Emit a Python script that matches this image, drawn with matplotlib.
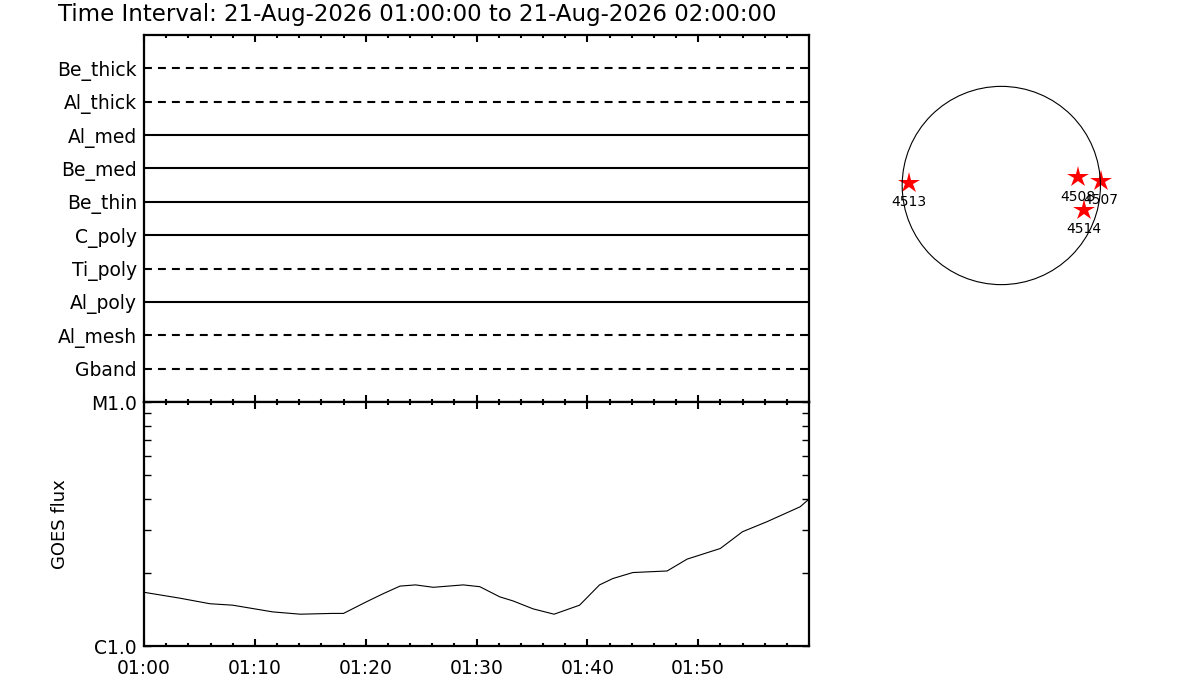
import numpy as np
import matplotlib.pyplot as plt
from matplotlib.ticker import FixedLocator, MultipleLocator, NullFormatter

plt.rcParams['font.family'] = ['DejaVu Sans']

title = "Time Interval: 21-Aug-2026 01:00:00 to 21-Aug-2026 02:00:00"

# XRT filter channels, bottom to top
channels = ['Gband', 'Al_mesh', 'Al_poly', 'Ti_poly', 'C_poly',
            'Be_thin', 'Be_med', 'Al_med', 'Al_thick', 'Be_thick']
channel_dashed = [True, True, False, True, False,
                  False, False, False, True, True]

# GOES flux, minutes after 01:00
goes_min = [0.0, 3.25, 5.95, 8.0, 11.6, 14.1, 17.0, 18.0, 20.1, 21.6, 23.1,
            24.5, 26.1, 28.8, 30.3, 32.1, 33.3, 35.1, 37.0, 39.3, 41.1, 42.3,
            44.1, 47.2, 49.0, 52.0, 54.0, 56.2, 59.2, 60.0]
goes_flux = [1.66e-6, 1.57e-6, 1.49e-6, 1.47e-6, 1.38e-6, 1.35e-6, 1.36e-6,
             1.36e-6, 1.52e-6, 1.64e-6, 1.76e-6, 1.78e-6, 1.74e-6, 1.78e-6,
             1.75e-6, 1.59e-6, 1.53e-6, 1.42e-6, 1.35e-6, 1.47e-6, 1.78e-6,
             1.89e-6, 2.0e-6, 2.03e-6, 2.27e-6, 2.51e-6, 2.94e-6, 3.23e-6,
             3.72e-6, 4.0e-6]

time_ticks = [0, 10, 20, 30, 40, 50]
time_labels = ['01:00', '01:10', '01:20', '01:30', '01:40', '01:50']

goes_ticks = [1e-6, 1e-5]
goes_labels = ['C1.0', 'M1.0']

# active regions on the disk (arcsec)
ar_numbers = ['4513', '4508', '4507', '4514']
ar_x = [-883, 731, 951, 791]
ar_y = [27, 78, 46, -234]
r_sun = 950

fig = plt.figure(figsize=(12, 7), dpi=100)
W, H = 1200, 700

ax1 = fig.add_axes([144 / W, 1 - 402 / H, 665 / W, 367 / H])
ax2 = fig.add_axes([144 / W, 1 - 646 / H, 665 / W, 244 / H])

fig.text(58 / W, 1 - 15 / H, title, fontsize=16.5, ha='left', va='center')

# top panel: one line per channel
for i, (name, dashed) in enumerate(zip(channels, channel_dashed)):
    ax1.plot([0, 60], [i + 1, i + 1], color='k', lw=1.5,
             dashes=(3.8, 2.9) if dashed else (None, None))
ax1.set_xlim(0, 60)
ax1.set_ylim(0, 11)
ax1.set_yticks(range(1, len(channels) + 1), labels=channels)
ax1.tick_params(axis='y', length=0, pad=5, labelsize=13.5)

# bottom panel: GOES
ax2.plot(goes_min, goes_flux, color='k', lw=0.8)
ax2.set_yscale('log')
ax2.set_xlim(0, 60)
ax2.set_ylim(1e-6, 1e-5)
ax2.yaxis.set_major_locator(FixedLocator(goes_ticks))
ax2.set_yticklabels(goes_labels)
ax2.yaxis.set_minor_locator(FixedLocator([k * 1e-6 for k in range(2, 10)]))
ax2.yaxis.set_minor_formatter(NullFormatter())
ax2.tick_params(axis='y', which='both', direction='in', left=True, right=True,
                length=5, width=1, pad=5, labelsize=13.5)
ax2.set_ylabel('GOES flux', fontsize=13, labelpad=16)

for ax in (ax1, ax2):
    ax.set_xticks(time_ticks)
    ax.xaxis.set_minor_locator(MultipleLocator(2))
    ax.tick_params(axis='x', which='both', direction='in', top=True,
                   bottom=True, width=1.5)
    ax.tick_params(axis='x', which='major', length=5)
    ax.tick_params(axis='x', which='minor', length=2.5)
    for s in ax.spines.values():
        s.set_linewidth(1.6)
ax1.tick_params(axis='x', labelbottom=False)
ax2.set_xticklabels(time_labels)
ax2.tick_params(axis='x', pad=9, labelsize=13.5)

# solar disk with active regions
ax3 = fig.add_axes([881.3 / W, 1 - 305.5 / H, 240 / W, 240 / H])
ax3.set_xlim(-1150, 1150)
ax3.set_ylim(-1150, 1150)
ax3.axis('off')
ax3.add_patch(plt.Circle((0, 0), r_sun, fill=False, color='k', lw=0.8,
                         zorder=3))
ax3.plot(ar_x, ar_y, '*', color='red', ms=16, mew=0, zorder=2)
for num, x, y in zip(ar_numbers, ar_x, ar_y):
    ax3.annotate(num, (x, y), xytext=(0, -14), textcoords='offset points',
                 ha='center', va='center', fontsize=10, zorder=4)

fig.savefig('out.png', dpi=100)
